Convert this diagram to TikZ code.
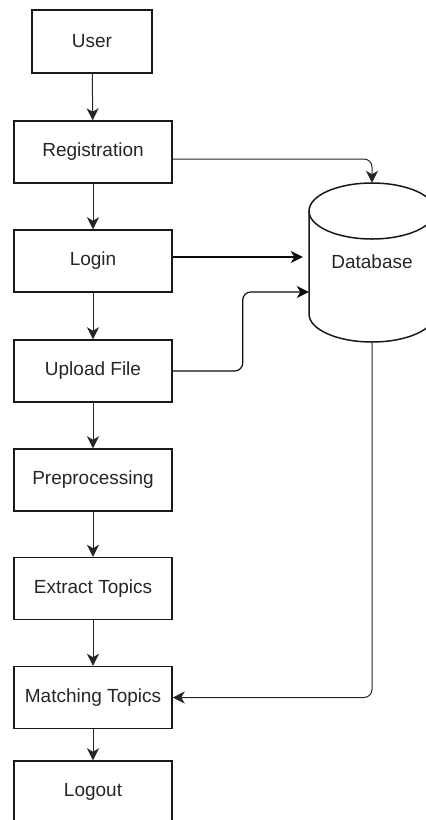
\documentclass[tikz,border=0pt]{standalone}
\usepackage{fontspec}
\setmainfont{Liberation Sans}
\usetikzlibrary{arrows.meta,calc}
\begin{document}
\begin{tikzpicture}[x=1pt,y=-1pt,
  every node/.style={font=\fontsize{19}{22}\selectfont, text=black!85},
  stepbox/.style={draw=black!90, line width=1.5pt, fill=white, minimum width=158pt, minimum height=62pt, inner sep=0pt},
  flow/.style={draw=black!85, line width=1pt, rounded corners=8pt, -{Stealth[length=12pt,width=12pt,inset=3.5pt]}},
  strong/.style={line width=1.2pt, draw=black!95}
]
\useasboundingbox (0,0) rectangle (426,820);
\begin{scope}
\clip (0,0) rectangle (426,820);

% process steps
\node[stepbox, minimum width=120pt, minimum height=63pt] (user) at (92,41.5) {User};
\node[stepbox] (reg)   at (93,152) {Registration};
\node[stepbox] (login) at (93,261) {Login};
\node[stepbox] (up)    at (93,371) {Upload File};
\node[stepbox] (pre)   at (93,480) {Preprocessing};
\node[stepbox] (ext)   at (93,588.5) {Extract Topics};
\node[stepbox] (match) at (93,697.5) {Matching Topics};
\node[stepbox] (out)   at (93,792) {Logout};

% database cylinder, sized by an invisible frame node
\node[minimum width=126pt, minimum height=159pt, inner sep=0pt] (db) at (372,262.5) {};
\fill[white] (309,211) -- (309,314) arc[start angle=180, end angle=360, x radius=63, y radius=-28]
  -- (435,211) arc[start angle=0, end angle=180, x radius=63, y radius=-28] -- cycle;
\draw[black!90, line width=1.5pt] (309,211) -- (309,314)
  arc[start angle=180, end angle=360, x radius=63, y radius=-28] -- (435,211);
\draw[black!90, line width=1.5pt] (372,211) ellipse[x radius=63, y radius=28];
\node at (372,262) {Database};

% main flow
\draw[flow] (user) -- (reg);
\draw[flow] (reg) -- (login);
\draw[flow] (login) -- (up);
\draw[flow] (up) -- (pre);
\draw[flow] (pre) -- (ext);
\draw[flow] (ext) -- (match);
\draw[flow] (match) -- (out);

% links to and from the database
\draw[flow] ($(reg.east)+(0,7)$) -| (db.north);
\draw[flow, strong, shorten >=6pt] ($(login.east)+(0,-4)$) -- ($(db.west)+(0,-5.5)$);
\draw[flow, strong] (up.east) -- ++(70,0) |- ($(db.west)+(0,29.5)$);
\draw[flow] (db.south) |- (match.east);
\end{scope}
\end{tikzpicture}
\end{document}
